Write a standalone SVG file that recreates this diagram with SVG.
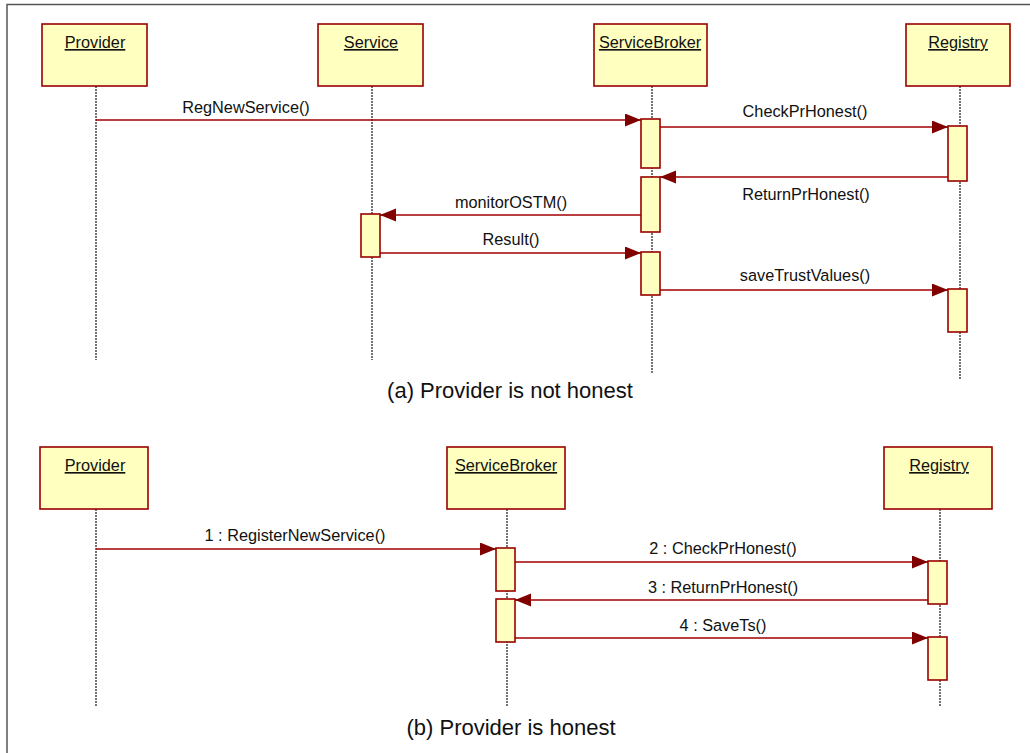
<svg xmlns="http://www.w3.org/2000/svg" width="1030" height="753" viewBox="0 0 1030 753">
<style>
.box{fill:#FFFFC0;stroke:#990000;stroke-width:1.6}
.act{fill:#FFFFC0;stroke:#990000;stroke-width:1.6}
.life{stroke:#000;stroke-width:1.1;stroke-dasharray:2,1;fill:none}
.msg{stroke:#A00000;stroke-width:1.3;fill:none;marker-end:url(#ah)}
.name{font-family:"Liberation Sans",Arial,sans-serif;font-size:16.3px;fill:#111;text-anchor:middle;text-decoration:underline}
.lbl{font-family:"Liberation Sans",Arial,sans-serif;font-size:16.3px;fill:#111;text-anchor:middle}
.cap{font-family:"Liberation Sans",Arial,sans-serif;font-size:22px;fill:#111;text-anchor:middle}
</style>
<defs>
<marker id="ah" markerUnits="userSpaceOnUse" markerWidth="17" markerHeight="14" refX="16" refY="6.5" orient="auto">
<path d="M0,0 L16,6.5 L0,13 z" fill="#800000"/>
</marker>
</defs>
<rect x="0" y="0" width="1030" height="753" fill="#fff"/>
<rect x="7" y="4.5" width="1040" height="770" fill="none" stroke="#555" stroke-width="1.5"/>

<!-- (a) -->
<g id="a-provider">
<line class="life" x1="96" y1="86" x2="96" y2="360"/>
<rect class="box" x="42" y="24" width="105" height="62"/>
<text class="name" x="95" y="48">Provider</text>
</g>
<g id="a-service">
<line class="life" x1="372" y1="86" x2="372" y2="360"/>
<rect class="box" x="318" y="24" width="105" height="62"/>
<text class="name" x="371" y="48">Service</text>
<rect class="act" x="361" y="214" width="19" height="43"/>
</g>
<g id="a-broker">
<line class="life" x1="652" y1="86" x2="652" y2="373"/>
<rect class="box" x="594" y="24" width="113" height="62"/>
<text class="name" x="650" y="48">ServiceBroker</text>
<rect class="act" x="641" y="119" width="19" height="49"/>
<rect class="act" x="641" y="177" width="19" height="55"/>
<rect class="act" x="641" y="252" width="19" height="43"/>
</g>
<g id="a-registry">
<line class="life" x1="960" y1="86" x2="960" y2="379"/>
<rect class="box" x="906" y="24" width="104" height="62"/>
<text class="name" x="958" y="48">Registry</text>
<rect class="act" x="948" y="126" width="19" height="55"/>
<rect class="act" x="948" y="289" width="19" height="43"/>
</g>

<!-- (b) -->
<g id="b-provider">
<line class="life" x1="96" y1="509" x2="96" y2="707"/>
<rect class="box" x="40" y="447" width="108" height="62"/>
<text class="name" x="95" y="471">Provider</text>
</g>
<g id="b-broker">
<line class="life" x1="507" y1="509" x2="507" y2="707"/>
<rect class="box" x="447" y="447" width="118" height="62"/>
<text class="name" x="506" y="471">ServiceBroker</text>
<rect class="act" x="496" y="548" width="19" height="43"/>
<rect class="act" x="496" y="599" width="19" height="43"/>
</g>
<g id="b-registry">
<line class="life" x1="940" y1="509" x2="940" y2="707"/>
<rect class="box" x="884" y="447" width="108" height="62"/>
<text class="name" x="939" y="471">Registry</text>
<rect class="act" x="928" y="561" width="19" height="43"/>
<rect class="act" x="928" y="637" width="19" height="43"/>
</g>

<g id="connectors">
<line class="msg" x1="96" y1="120" x2="641" y2="120"/>
<line class="msg" x1="660" y1="127" x2="948" y2="127"/>
<line class="msg" x1="948" y1="177" x2="660" y2="177"/>
<line class="msg" x1="641" y1="215" x2="380" y2="215"/>
<line class="msg" x1="380" y1="253" x2="641" y2="253"/>
<line class="msg" x1="660" y1="290" x2="948" y2="290"/>
<line class="msg" x1="96" y1="549" x2="496" y2="549"/>
<line class="msg" x1="515" y1="562" x2="928" y2="562"/>
<line class="msg" x1="928" y1="600" x2="515" y2="600"/>
<line class="msg" x1="515" y1="638" x2="928" y2="638"/>
</g>

<g id="labels">
<text class="lbl" x="246" y="113">RegNewService()</text>
<text class="lbl" x="805" y="117">CheckPrHonest()</text>
<text class="lbl" x="806" y="200">ReturnPrHonest()</text>
<text class="lbl" x="511" y="208">monitorOSTM()</text>
<text class="lbl" x="511" y="245">Result()</text>
<text class="lbl" x="805" y="281">saveTrustValues()</text>
<text class="cap" x="510" y="398">(a) Provider is not honest</text>
<text class="lbl" x="295" y="541">1 : RegisterNewService()</text>
<text class="lbl" x="723" y="554">2 : CheckPrHonest()</text>
<text class="lbl" x="723" y="593">3 : ReturnPrHonest()</text>
<text class="lbl" x="723" y="631">4 : SaveTs()</text>
<text class="cap" x="511" y="735">(b) Provider is honest</text>
</g>
</svg>
